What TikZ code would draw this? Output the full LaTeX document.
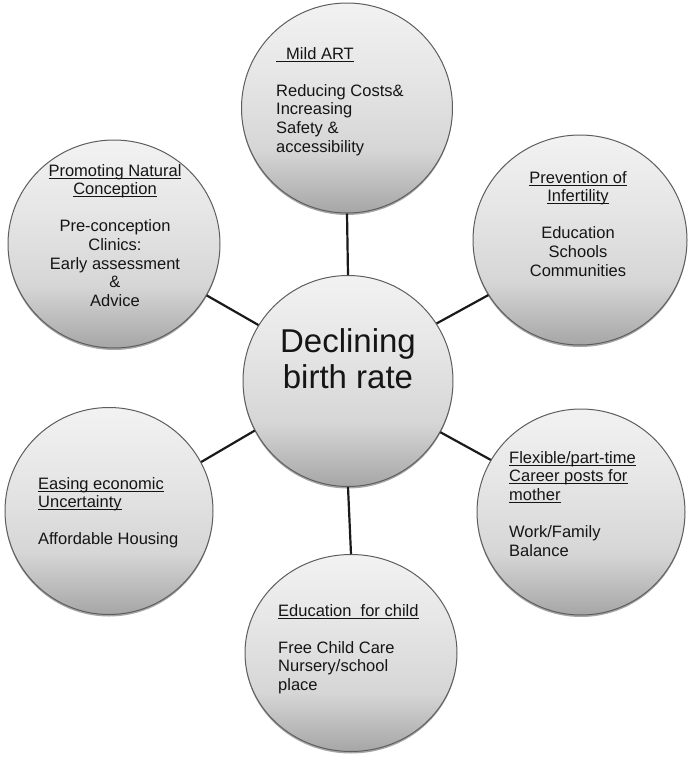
\documentclass[tikz,border=0pt]{standalone}
\usepackage{fontspec}
\setmainfont{Liberation Sans}
\usetikzlibrary{shapes.geometric,shadows}
\definecolor{ballA}{HTML}{F2F2F2}
\definecolor{ballB}{HTML}{E6E6E6}
\definecolor{ballC}{HTML}{D6D6D6}
\definecolor{ballD}{HTML}{A6A6A6}
\definecolor{ballrim}{HTML}{5E5E5E}
\definecolor{linkcol}{HTML}{1A1A1A}
\definecolor{txtcol}{HTML}{151515}
\pgfdeclareverticalshading{ballshade}{100bp}{color(0bp)=(ballD); color(25bp)=(ballD); color(40bp)=(ballC); color(58bp)=(ballB); color(75bp)=(ballA); color(100bp)=(ballA)}
\newcommand\myul[1]{\setbox0\hbox{#1}\rlap{\rule[-2.6pt]{\wd0}{1pt}}\box0}
\tikzset{
  x=1pt, y=-1pt,
  ball/.style={ellipse, draw=ballrim, line width=1pt, inner sep=0pt,
    shading=ballshade,
    drop shadow={shadow xshift=0pt, shadow yshift=-2pt, opacity=0.35, fill=black}},
  link/.style={draw=linkcol, line width=2.2pt},
  lbl/.style={inner sep=0pt, text=txtcol, font=\fontsize{16.5}{18.6}\selectfont},
  bigl/.style={inner sep=0pt, text=txtcol, font=\fontsize{33}{36.5}\selectfont}
}
\begin{document}
\begin{tikzpicture}
\useasboundingbox[fill=white] (0,0) rectangle (690,758);
% circles
\node[ball, minimum width=211pt, minimum height=210pt] (art) at (347,108) {};
\node[ball, minimum width=212pt, minimum height=208pt] (nat) at (114,244) {};
\node[ball, minimum width=214pt, minimum height=210pt] (prev) at (580,240) {};
\node[ball, minimum width=210pt, minimum height=211pt] (core) at (348,381) {};
\node[ball, minimum width=208pt, minimum height=207pt] (econ) at (109,511) {};
\node[ball, minimum width=208pt, minimum height=206pt] (flex) at (581,512) {};
\node[ball, minimum width=212pt, minimum height=197pt] (edu) at (351,653) {};
% connectors
\draw[link] (core.90) -- (art.270);
\draw[link] (core.148) -- (nat.331);
\draw[link] (core.33) -- (prev.211);
\draw[link] (core.208) -- (econ.28);
\draw[link] (core.331) -- (flex.150);
\draw[link] (core.270) -- (edu.90);
% texts
\node[bigl, anchor=base] (coret) at (348,352) {\begin{tabular}[t]{@{}c@{}}Declining\\birth rate\end{tabular}};
\node[lbl, anchor=base west] (artt) at (276,59) {\begin{tabular}[t]{@{}l@{}}\myul{\kern10pt Mild ART}\\[0pt] \\Reducing Costs\&\\Increasing\\Safety \&\\accessibility\end{tabular}};
\node[lbl, anchor=base] (natt) at (115,176) {\begin{tabular}[t]{@{}c@{}}\myul{Promoting Natural}\\\myul{Conception}\\ \\Pre-conception\\Clinics:\\Early assessment\\\&\\Advice\end{tabular}};
\node[lbl, anchor=base] (prevt) at (578,183) {\begin{tabular}[t]{@{}c@{}}\myul{Prevention of}\\\myul{Infertility}\\ \\Education\\Schools\\Communities\end{tabular}};
\node[lbl, anchor=base west] (flext) at (509,463) {\begin{tabular}[t]{@{}l@{}}\myul{Flexible/part-time}\\\myul{Career posts for}\\\myul{mother}\\ \\Work/Family\\Balance\end{tabular}};
\node[lbl, anchor=base west] (econt) at (38,489) {\begin{tabular}[t]{@{}l@{}}\myul{Easing economic}\\\myul{Uncertainty}\\ \\Affordable Housing\end{tabular}};
\node[lbl, anchor=base west] (edut) at (278,616) {\begin{tabular}[t]{@{}l@{}}\myul{Education~ for child}\\ \\Free Child Care\\Nursery/school\\place\end{tabular}};
\end{tikzpicture}
\end{document}
